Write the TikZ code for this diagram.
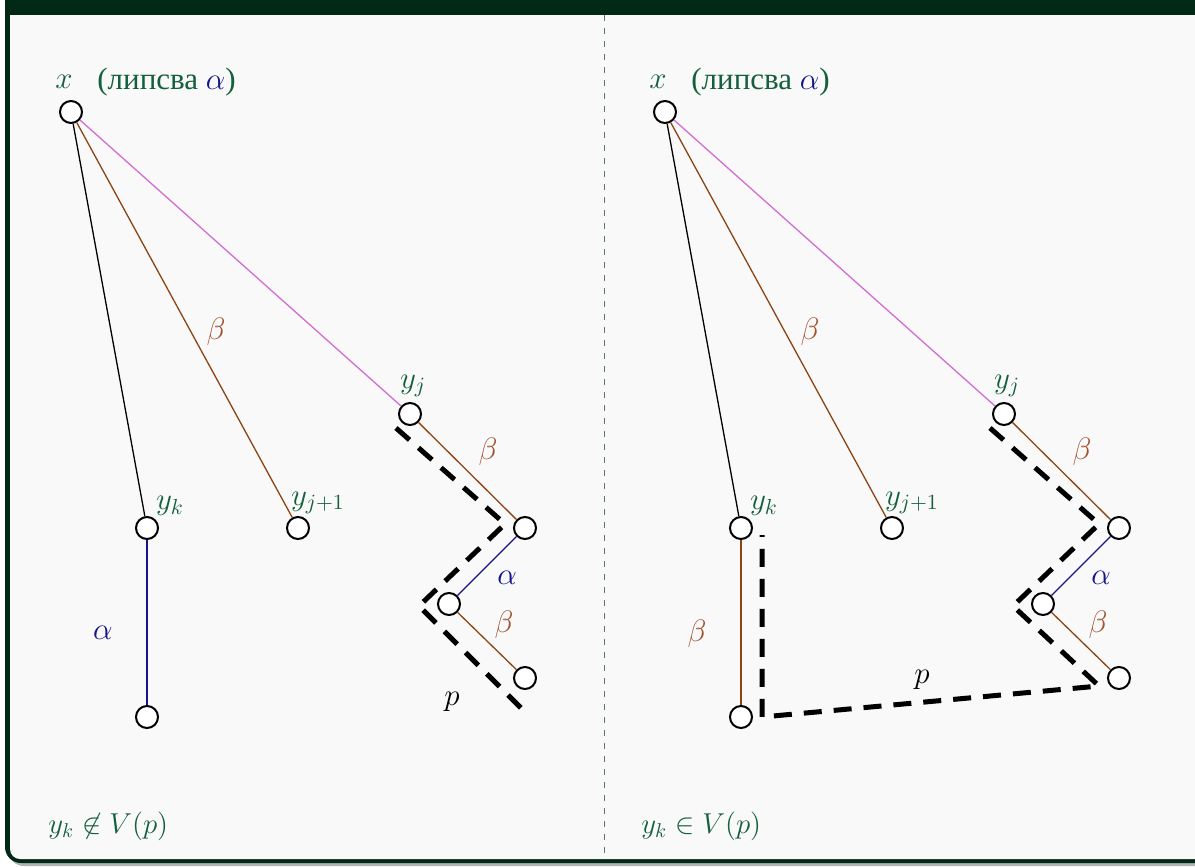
\documentclass[tikz,border=0pt]{standalone}
\usepackage{fix-cm}
\usepackage[no-math]{fontspec}
\newfontfamily\cyr{Liberation Serif}
\definecolor{titlegreen}{RGB}{0,42,22}
\definecolor{lgreen}{RGB}{20,95,60}
\definecolor{ebrown}{RGB}{139,69,19}
\definecolor{bbrown}{RGB}{160,82,45}
\definecolor{enavy}{RGB}{20,20,140}
\definecolor{eorchid}{RGB}{210,110,210}
\definecolor{divc}{RGB}{90,120,110}
\definecolor{panelbg}{RGB}{249,249,249}
\tikzset{
 vtx/.style={circle, draw=black, fill=white, line width=1pt, minimum size=11pt, inner sep=0pt},
 lbl/.style={text=lgreen, font=\fontsize{15.5}{18}\selectfont, inner sep=0pt},
 clbl/.style={text=lgreen, font=\fontsize{14.4}{17}\selectfont, inner sep=0pt},
 elbl/.style={font=\fontsize{15.5}{18}\selectfont, inner sep=0pt},
 edg/.style={line width=0.65pt},
 pathp/.style={line width=2.5pt, dash pattern=on 9pt off 6pt},
}
\begin{document}
\begin{tikzpicture}[x=0.5pt,y=-0.5pt]
\useasboundingbox (0,0) rectangle (1195,867);
\fill[white] (0,0) rectangle (1195,867);
% frame
\fill[gray!60] (8,-40) [rounded corners=8pt] -- (8,866) -- (1260,866) [sharp corners] -- (1260,-40) -- cycle;
\fill[titlegreen] (5,-40) [rounded corners=8pt] -- (5,863) -- (1260,863) [sharp corners] -- (1260,-40) -- cycle;
\fill[panelbg] (10,15) [rounded corners=5pt] -- (10,859) -- (1260,859) [sharp corners] -- (1260,15) -- cycle;
% divider
\draw[divc, line width=0.5pt, dash pattern=on 3pt off 3.5pt] (604,15) -- (604,859);

% ---------- left panel ----------
\node[vtx] (x1) at (71,112) {};
\node[vtx] (yk1) at (147,528) {};
\node[vtx] (yjp1) at (298,528) {};
\node[vtx] (yj1) at (410,414) {};
\node[vtx] (a1) at (525,528) {};
\node[vtx] (b1) at (449,604) {};
\node[vtx] (c1) at (525,678) {};
\node[vtx] (z1) at (147,717) {};
\draw[edg, black] (x1) -- (yk1);
\draw[edg, ebrown] (x1) -- (yjp1);
\draw[edg, eorchid] (x1) -- (yj1);
\draw[edg, ebrown] (yj1) -- (a1);
\draw[edg, enavy] (a1) -- (b1);
\draw[edg, ebrown] (b1) -- (c1);
\draw[edg, enavy] (yk1) -- (z1);
\node[lbl] (xl1) at (64,82) {$x$};
\node[lbl, anchor=west] (ml1) at (97,82) {{\cyr (липсва }\textcolor{enavy}{$\alpha$}{\cyr )}};
\node[lbl] (ykl1) at (170,506) {$y_k$};
\node[lbl] (yjpl1) at (318,503) {$y_{j+1}$};
\node[lbl] (yjl1) at (413,386) {$y_j$};
\node[elbl, text=bbrown] (bl1) at (216,332) {$\beta$};
\node[elbl, text=bbrown] (bl2) at (488,452) {$\beta$};
\node[elbl, text=enavy] (al2) at (507,578) {$\alpha$};
\node[elbl, text=bbrown] (bl3) at (504,625) {$\beta$};
\node[elbl, text=enavy] (al1) at (103,633) {$\alpha$};
\node[elbl] (pl1) at (452,702) {$p$};
\coordinate (p1a) at (396,428);
\coordinate (p1b) at (505,524);
\coordinate (p1c) at (419,606);
\coordinate (p1d) at (524,711);
\draw[pathp] (p1a) -- (p1b) -- (p1c) -- (p1d);
\node[clbl, anchor=west] (cond1) at (48,826) {$y_k\not\in V(p)$};

% ---------- right panel ----------
\node[vtx] (x2) at (665,112) {};
\node[vtx] (yk2) at (741,528) {};
\node[vtx] (yjp2) at (892,528) {};
\node[vtx] (yj2) at (1004,414) {};
\node[vtx] (a2) at (1119,528) {};
\node[vtx] (b2) at (1043,604) {};
\node[vtx] (c2) at (1119,678) {};
\node[vtx] (z2) at (741,717) {};
\draw[edg, black] (x2) -- (yk2);
\draw[edg, ebrown] (x2) -- (yjp2);
\draw[edg, eorchid] (x2) -- (yj2);
\draw[edg, ebrown] (yj2) -- (a2);
\draw[edg, enavy] (a2) -- (b2);
\draw[edg, ebrown] (b2) -- (c2);
\draw[edg, ebrown] (yk2) -- (z2);
\node[lbl] (xl2) at (658,82) {$x$};
\node[lbl, anchor=west] (ml2) at (691,82) {{\cyr (липсва }\textcolor{enavy}{$\alpha$}{\cyr )}};
\node[lbl] (ykl2) at (764,506) {$y_k$};
\node[lbl] (yjpl2) at (912,503) {$y_{j+1}$};
\node[lbl] (yjl2) at (1007,386) {$y_j$};
\node[elbl, text=bbrown] (bl4) at (810,332) {$\beta$};
\node[elbl, text=bbrown] (bl5) at (1082,452) {$\beta$};
\node[elbl, text=enavy] (al3) at (1101,578) {$\alpha$};
\node[elbl, text=bbrown] (bl6) at (1098,625) {$\beta$};
\node[elbl, text=bbrown] (bl7) at (697,634) {$\beta$};
\node[elbl] (pl2) at (922,680) {$p$};
\coordinate (p2a) at (990,428);
\coordinate (p2b) at (1099,524);
\coordinate (p2c) at (1013,606);
\coordinate (p2d) at (1099,686);
\coordinate (p2e) at (762,717);
\coordinate (p2f) at (762,535);
\draw[pathp] (p2a) -- (p2b) -- (p2c) -- (p2d) -- (p2e) -- (p2f);
\node[clbl, anchor=west] (cond2) at (641,826) {$y_k\in V(p)$};
\end{tikzpicture}
\end{document}
